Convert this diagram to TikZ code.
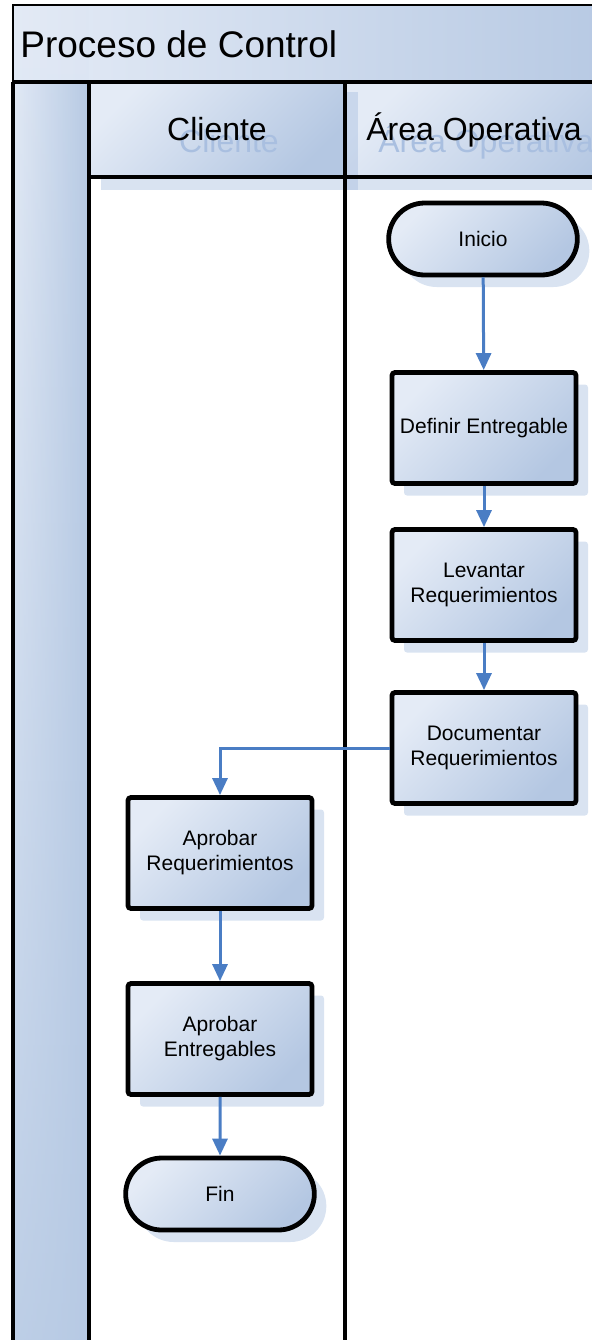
\documentclass[tikz,border=0pt]{standalone}
\usepackage{fontspec}
\setmainfont{Liberation Sans}
\usetikzlibrary{shapes.misc,shadows,arrows.meta,fadings}
\definecolor{fillLight}{HTML}{E4EBF6}
\definecolor{fillDark}{HTML}{B4C7E2}
\definecolor{bandDark}{HTML}{B7CAE4}
\definecolor{shadowBlue}{HTML}{D9E3F1}
\definecolor{ghostBlue}{HTML}{A9BFE0}
\definecolor{flowBlue}{HTML}{4A7DC4}
\begin{document}
\begin{tikzpicture}[x=0.5pt,y=-0.5pt,
  gradfill/.style={top color=fillLight, bottom color=fillDark, shading angle=45},
  boxshadow/.style={drop shadow={shadow xshift=6pt, shadow yshift=-6pt, fill=shadowBlue, opacity=1}},
  nodetext/.style={font=\fontsize{10.5}{12.5}\selectfont, align=center},
  procbox/.style={rectangle, rounded corners=1.5pt, draw=black, line width=2.4pt,
    gradfill, boxshadow, nodetext, minimum width=92pt, minimum height=55.5pt, inner sep=1pt},
  termbox/.style={rounded rectangle, draw=black, line width=2.4pt,
    gradfill, boxshadow, nodetext, minimum width=101pt, minimum height=36pt},
  flow/.style={draw=flowBlue, line width=1.5pt, -{Triangle[length=8.5pt,width=7.5pt]}},
  laneline/.style={draw=black, line width=2.3pt},
  lanetitle/.style={font=\fontsize{16}{18}\selectfont, inner sep=0pt},
  ghost/.style={lanetitle, text=ghostBlue},
]
\useasboundingbox (0,0) rectangle (592,1340);
\clip (0,0) rectangle (592,1340);

% pool title bar
\path[left color=fillLight, right color=fillDark] (13,5) rectangle (650,82);
% left band: horizontal gradient that settles into a flat tone further down
\path[left color=fillLight, right color=bandDark] (13,82) rectangle (89,1400);
\fill[bandDark, path fading=north] (13,0) rectangle (89,1560);

% lane header shadows
\fill[shadowBlue] (101,94) rectangle (650,190);
\path[gradfill] (345,82) rectangle (650,177);
\fill[ghostBlue, opacity=0.45] (347,92) rectangle (358,190);
\path[gradfill] (89,82) rectangle (345,177);

% lane header texts with their soft echoes
\node[ghost, anchor=base] (cliGhost) at (229,152) {Cliente};
\node[ghost, anchor=base west] (opGhost) at (378,152) {Área Operativa};
\node[lanetitle, anchor=base] (cliTitle) at (217,140) {Cliente};
\node[lanetitle, anchor=base west] (opTitle) at (366,140) {Área Operativa};
\node[font=\fontsize{18.5}{20}\selectfont, inner sep=0pt, anchor=west] (poolTitle) at (20,44) {Proceso de Control};

% pool and lane outlines
\draw[black, line width=1.3pt] (13,1400) -- (13,5) -- (650,5);
\draw[laneline] (13,82) -- (650,82);
\draw[laneline] (89,177) -- (650,177);
\draw[laneline] (13,82) -- (13,1400);
\draw[laneline] (89,82) -- (89,1400);
\draw[laneline] (345,82) -- (345,1400);

% flow steps
\node[termbox] (inicio) at (483,239) {Inicio};
\node[procbox] (definir) at (484,428) {Definir Entregable};
\node[procbox] (levantar) at (484,585) {Levantar\\Requerimientos};
\node[procbox] (documentar) at (484,748) {Documentar\\Requerimientos};
\node[procbox] (aprobReq) at (220,853) {Aprobar\\Requerimientos};
\node[procbox] (aprobEnt) at (220,1039) {Aprobar\\Entregables};
\node[termbox] (fin) at (220,1194) {Fin};

% connectors
\draw[flow] (inicio) -- (definir);
\draw[flow] (definir) -- (levantar);
\draw[flow] (levantar) -- (documentar);
\draw[flow] (documentar.west) -| (aprobReq.north);
\draw[flow] (aprobReq) -- (aprobEnt);
\draw[flow] (aprobEnt) -- (fin);
\end{tikzpicture}
\end{document}
